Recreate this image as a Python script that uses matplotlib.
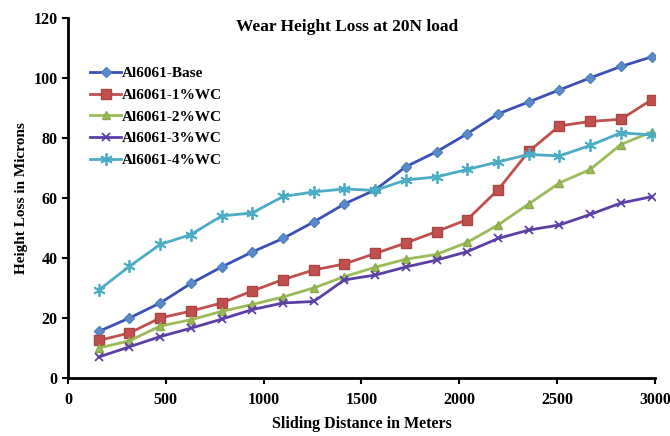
"""
Wear height loss vs sliding distance at 20N load
"""

import matplotlib

matplotlib.use("Agg")
from matplotlib import pyplot as plt

# Sliding distance (m)
distance = [157, 314, 471, 628, 785, 942, 1099, 1256, 1413, 1570,
            1727, 1884, 2041, 2198, 2355, 2512, 2669, 2826, 2983]

# Height loss (microns)
base = [15.5, 20, 25, 31.5, 37, 42, 46.5, 52, 58, 62.7,
        70.4, 75.4, 81.4, 88, 92, 96, 100, 103.8, 107]
wc1 = [12.5, 15, 20, 22.3, 25, 29, 32.8, 36, 38, 41.5,
       45, 48.8, 52.8, 62.7, 75.5, 84, 85.5, 86.2, 92.7]
wc2 = [10, 12.4, 17.3, 19.4, 22.2, 24.5, 27, 30, 33.8, 36.9,
       39.6, 41.2, 45.2, 51, 58, 65, 69.5, 77.8, 82]
wc3 = [7, 10.4, 13.8, 16.6, 19.6, 22.8, 25, 25.5, 32.7, 34.3,
       37, 39.3, 42.1, 46.5, 49.3, 51, 54.5, 58.3, 60.4]
wc4 = [29.3, 37.2, 44.5, 47.8, 54, 55, 60.5, 62, 63, 62.5,
       66, 67, 69.5, 72, 74.5, 74, 77.5, 81.7, 81]

labels = ["Al6061-Base", "Al6061-1%WC", "Al6061-2%WC", "Al6061-3%WC", "Al6061-4%WC"]
xticks = [0, 500, 1000, 1500, 2000, 2500, 3000]
yticks = [0, 20, 40, 60, 80, 100, 120]

plt.rcParams["font.family"] = "Liberation Serif"
plt.rcParams["font.weight"] = "bold"

fig = plt.figure(figsize=(6.7, 4.36), dpi=100)
ax = fig.add_axes([0.1015, 0.133, 0.876, 0.826])

styles = [
    dict(color="#3A4FB8", marker="D", ms=5, mfc="#5B8BC8", mec="#4F81BD"),
    dict(color="#C0504D", marker="s", ms=7, mfc="#C0504D", mec="#A94442"),
    dict(color="#9BBB59", marker="^", ms=6, mfc="#9BBB59", mec="#8AAA48"),
    dict(color="#5B3FA6", marker="x", ms=6, mew=1.3),
    dict(color="#4BACC6", marker=(6, 2, 0), ms=9, mew=1.3),
]

for series, label, st in zip([base, wc1, wc2, wc3, wc4], labels, styles):
    ax.plot(distance, series, lw=2, label=label, **st)

ax.set_xlim(0, 3000)
ax.set_ylim(0, 120)
ax.set_xticks(xticks)
ax.set_yticks(yticks)
ax.tick_params(direction="out", length=4, width=1.5, labelsize=11.5)
ax.tick_params(axis="x", pad=6)
for lbl in ax.get_xticklabels() + ax.get_yticklabels():
    lbl.set_fontweight("bold")

for side in ["top", "right"]:
    ax.spines[side].set_visible(False)
for side in ["left", "bottom"]:
    ax.spines[side].set_linewidth(2)

ax.set_xlabel("Sliding Distance in Meters", fontsize=11.5, fontweight="bold", labelpad=6)
ax.set_ylabel("Height Loss in Microns", fontsize=11, fontweight="bold", labelpad=4)
fig.text(0.518, 0.938, "Wear Height Loss at 20N load", ha="center", va="center",
         fontsize=12.5, fontweight="bold")

ax.legend(loc="upper left", bbox_to_anchor=(0.02, 0.895), frameon=False,
          prop={"weight": "bold", "size": 11}, handlelength=2.0,
          handletextpad=0.05, labelspacing=0.53, borderaxespad=0.3)

fig.savefig("out.png", dpi=100)
